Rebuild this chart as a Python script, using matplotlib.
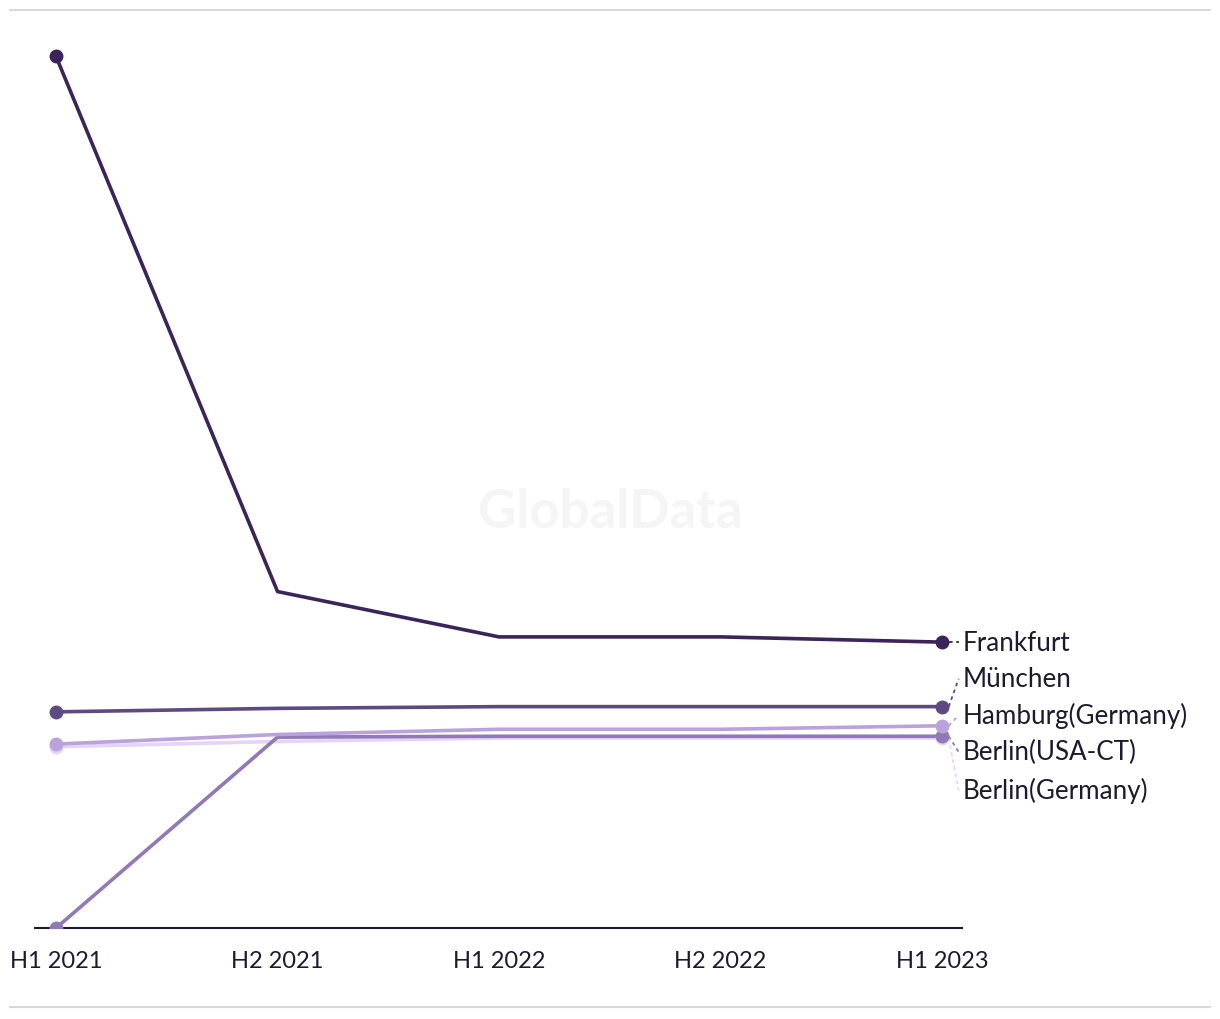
import matplotlib
matplotlib.use("Agg")
import matplotlib.pyplot as plt

# data (unit scale; no y axis shown)
periods = ["H1 2021", "H2 2021", "H1 2022", "H2 2022", "H1 2023"]
frankfurt = [5.00, 1.93, 1.67, 1.67, 1.64]
muenchen = [1.24, 1.26, 1.27, 1.27, 1.27]
hamburg = [1.055, 1.11, 1.14, 1.14, 1.16]
berlin_ct = [0.0, 1.095, 1.10, 1.10, 1.10]
berlin_de = [1.04, 1.07, 1.09, 1.09, 1.09]

names = ["Berlin(Germany)", "Berlin(USA-CT)", "Hamburg(Germany)", "München", "Frankfurt"]
series = [berlin_de, berlin_ct, hamburg, muenchen, frankfurt]
colors = ["#e6d3f8", "#8f79b6", "#b9a2de", "#5d4a82", "#3b2459"]
label_y = [0.79, 1.01, 1.22, 1.43, 1.64]  # label positions (data units)

plt.rcParams['font.family'] = ['Lato', 'DejaVu Sans']

fig = plt.figure(figsize=(12.2, 10.2), dpi=100)
ax = fig.add_axes([35 / 1220, 1 - 929 / 1020, (962 - 35) / 1220, (929 - 40) / 1020])

x = list(range(len(periods)))
for vals, c in zip(series, colors):
    ax.plot(x, vals, color=c, lw=2.6, solid_capstyle="round", zorder=2)
    ax.plot([x[0], x[-1]], [vals[0], vals[-1]], "o", color=c, ms=9, zorder=3)

# end labels with dashed leaders
for vals, name, ly, c in zip(series, names, label_y, colors):
    ax.plot([x[-1] + 0.03, 4.075], [vals[-1], ly], ls=(0, (2, 2)), color=c, lw=1.3,
            clip_on=False, zorder=1)
    ax.text(4.093, ly, name, fontsize=18.7, color="#1c1a2e", va="center", ha="left",
            clip_on=False)

ax.set_xlim(-0.095, 4.09)
ax.set_ylim(0, 5.1)
ax.set_xticks(x)
ax.set_xticklabels(periods, fontsize=17, color="#1c1a2e")
ax.tick_params(axis="x", length=0, pad=16)
ax.set_yticks([])
for s in ["top", "right", "left"]:
    ax.spines[s].set_visible(False)
ax.spines["bottom"].set_color("#1c1a2e")
ax.spines["bottom"].set_linewidth(1.5)

# watermark
fig.text(610 / 1220, 1 - 513 / 1020, "GlobalData", fontsize=38, fontweight="bold",
         color="#f5f5f5", ha="center", va="center", zorder=0)

# frame lines top and bottom
for yy in [11, 1008]:
    fig.add_artist(plt.Line2D([10 / 1220, 1210 / 1220], [1 - yy / 1020] * 2,
                              color="#d9d9d9", lw=1.5))

fig.savefig("out.png", dpi=100, facecolor="white")
